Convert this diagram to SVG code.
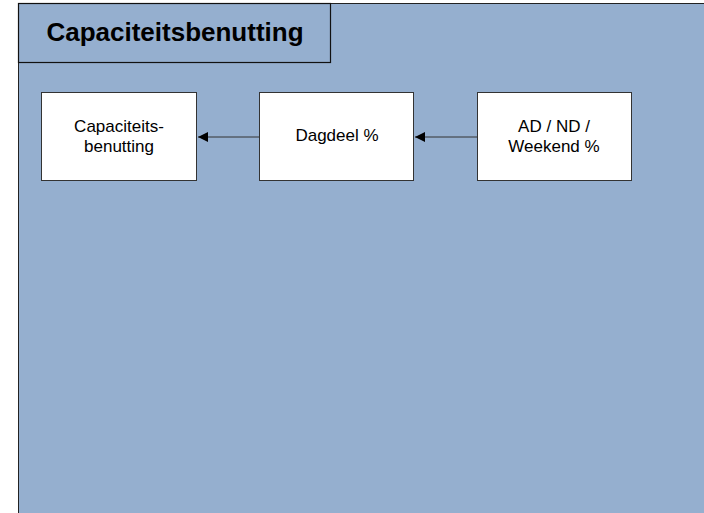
<svg xmlns="http://www.w3.org/2000/svg" width="704" height="513" viewBox="0 0 704 513">
<style>
.node{fill:#ffffff;stroke:#333333;stroke-width:1}
.lbl{font-family:"Liberation Sans",Arial,sans-serif;font-size:17px;fill:#000;text-anchor:middle}
.conn{stroke:#333333;stroke-width:1;fill:none;marker-end:url(#ah)}
</style>
<defs>
<marker id="ah" viewBox="0 0 10 10" refX="10" refY="5" markerWidth="10" markerHeight="10" markerUnits="userSpaceOnUse" orient="auto">
<path d="M0,0 L10,5 L0,10 Z" fill="#000"/>
</marker>
</defs>
<rect width="704" height="513" fill="#ffffff"/>
<g id="panel">
<rect x="18.5" y="3.5" width="700" height="520" fill="#95afcf" stroke="#222" stroke-width="1"/>
<rect x="18.5" y="3.5" width="312" height="59" fill="#95afcf" stroke="#111" stroke-width="1.2"/>
<text x="175" y="41" font-family="Liberation Sans,Arial,sans-serif" font-size="26" font-weight="bold" text-anchor="middle" fill="#000">Capaciteitsbenutting</text>
</g>
<g id="connectors">
<line class="conn" x1="259" y1="137" x2="198" y2="137"/>
<line class="conn" x1="477" y1="137" x2="415" y2="137"/>
</g>
<g id="n1">
<rect class="node" x="41.5" y="92.5" width="155" height="88"/>
<text class="lbl" x="119" y="132">Capaciteits-</text>
<text class="lbl" x="119" y="152">benutting</text>
</g>
<g id="n2">
<rect class="node" x="259.5" y="92.5" width="154" height="88"/>
<text class="lbl" x="337" y="141">Dagdeel %</text>
</g>
<g id="n3">
<rect class="node" x="477.5" y="92.5" width="154" height="88"/>
<text class="lbl" x="554" y="132">AD / ND /</text>
<text class="lbl" x="554" y="152">Weekend %</text>
</g>
</svg>
